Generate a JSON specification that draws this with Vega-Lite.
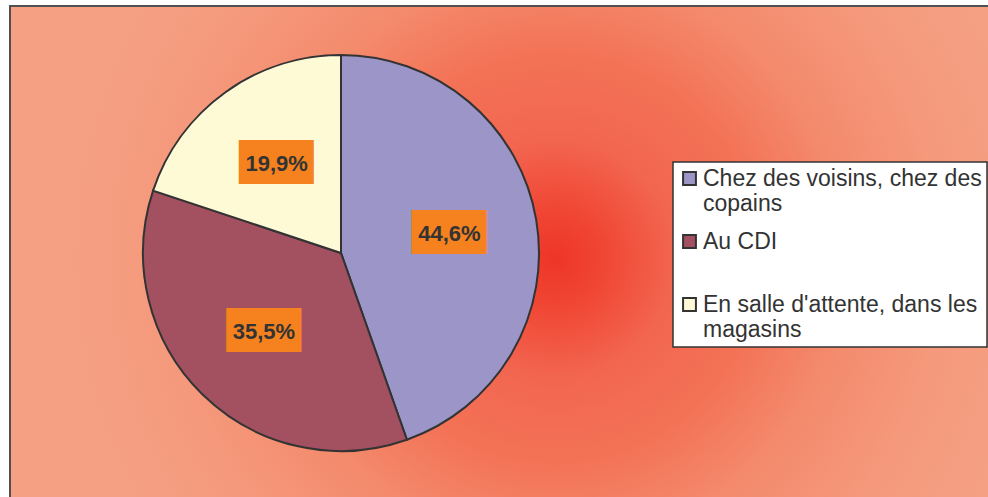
{
  "$schema": "https://vega.github.io/schema/vega-lite/v6.json",
  "width": 978,
  "height": 491,
  "autosize": "none",
  "padding": {"left": 10, "top": 6, "right": 0, "bottom": 0},
  "background": "white",
  "config": {
    "view": {"stroke": null},
    "legend": {
      "fillColor": "white",
      "strokeColor": "#333333",
      "strokeWidth": 1.5,
      "padding": 5,
      "symbolType": "square",
      "symbolSize": 165,
      "symbolStrokeColor": "#333333",
      "symbolStrokeWidth": 2,
      "symbolOpacity": 1,
      "labelFont": "Liberation Sans",
      "labelFontSize": 23,
      "labelColor": "#333333",
      "labelLineHeight": 25.5,
      "labelOffset": 2,
      "labelLimit": 500,
      "rowPadding": 14,
      "gridAlign": "all"
    }
  },
  "data": {
    "values": [
      {"lieu": "Chez des voisins, chez des copains", "pct": 44.6, "label": "44,6%"},
      {"lieu": "Au CDI", "pct": 35.5, "label": "35,5%"},
      {"lieu": "En salle d'attente, dans les magasins", "pct": 19.9, "label": "19,9%"}
    ]
  },
  "layer": [
    {
      "data": {"values": [{"fond": "zone"}]},
      "mark": {
        "type": "rect",
        "x": 0, "x2": {"expr": "width + 4"}, "y": 0, "y2": {"expr": "height + 4"},
        "stroke": "#505050",
        "strokeWidth": 2,
        "fill": {
          "gradient": "radial",
          "x1": 0.555, "y1": 0.505, "r1": 0,
          "x2": 0.555, "y2": 0.505, "r2": 0.49,
          "stops": [
            {"offset": 0, "color": "#EE3526"},
            {"offset": 0.1, "color": "#F04634"},
            {"offset": 0.25, "color": "#F26650"},
            {"offset": 0.42, "color": "#F37256"},
            {"offset": 0.6, "color": "#F48A6C"},
            {"offset": 0.8, "color": "#F5987B"},
            {"offset": 1, "color": "#F5A083"}
          ]
        }
      },
      "encoding": {}
    },
    {
      "mark": {"type": "arc", "outerRadius": 198, "x": 331, "y": 247, "stroke": "#333333", "strokeWidth": 2},
      "encoding": {
        "theta": {"field": "pct", "type": "quantitative", "stack": true},
        "order": {"field": "pct", "type": "quantitative", "sort": "descending"},
        "color": {
          "field": "lieu",
          "type": "nominal",
          "scale": {
            "domain": ["Chez des voisins, chez des copains", "Au CDI", "En salle d'attente, dans les magasins"],
            "range": ["#9B95C8", "#A35161", "#FFFAD6"]
          },
          "legend": {
            "title": null,
            "orient": "none",
            "legendX": 663,
            "legendY": 156,
            "labelExpr": "datum.label == \"Chez des voisins, chez des copains\" ? [\"Chez des voisins, chez des\", \"copains\"] : datum.label == \"En salle d'attente, dans les magasins\" ? [\"En salle d'attente, dans les\", \"magasins\"] : datum.label"
          }
        }
      }
    },
    {
      "mark": {"type": "text", "x": 331, "y": 247, "radius": 110, "text": "███▍", "font": "DejaVu Sans Mono", "fontSize": 37, "fill": "#F5821F", "align": "left", "dx": -37.6, "baseline": "middle"},
      "encoding": {
        "theta": {"field": "pct", "type": "quantitative", "stack": true},
        "order": {"field": "pct", "type": "quantitative", "sort": "descending"}
      }
    },
    {
      "mark": {"type": "text", "x": 331, "y": 247, "radius": 110, "font": "Liberation Sans", "fontWeight": "bold", "fontSize": 22, "fill": "#333333", "align": "center", "baseline": "middle"},
      "encoding": {
        "theta": {"field": "pct", "type": "quantitative", "stack": true},
        "order": {"field": "pct", "type": "quantitative", "sort": "descending"},
        "text": {"field": "label", "type": "nominal"}
      }
    }
  ]
}
